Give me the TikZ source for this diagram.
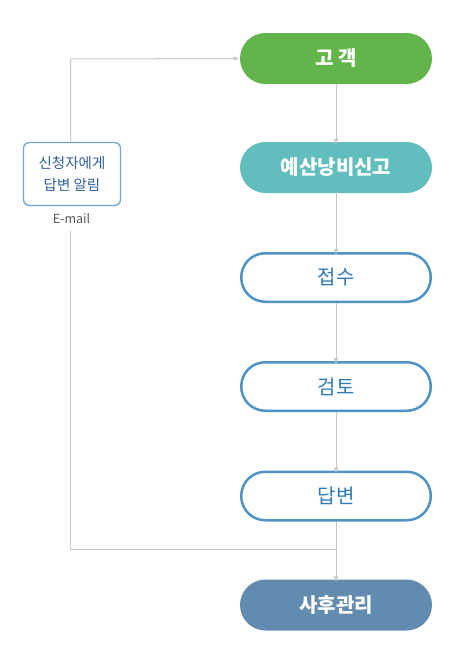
\documentclass[tikz,border=0pt]{standalone}
\usepackage{fontspec}
\setmainfont{Noto Sans CJK KR}
\usetikzlibrary{arrows.meta}
\definecolor{cgreen}{HTML}{62B44B}
\definecolor{cteal}{HTML}{62BEBE}
\definecolor{cslate}{HTML}{628BAF}
\definecolor{cline}{HTML}{C8C8C8}
\definecolor{cborder}{HTML}{4F93C4}
\definecolor{ctext}{HTML}{2F7AB8}
\definecolor{cleftb}{HTML}{6FA3D2}
\definecolor{clefttext}{HTML}{2E5E99}
\definecolor{cgraytext}{HTML}{555555}
\tikzset{
  pill/.style={rounded corners=25.5pt, minimum width=192pt, minimum height=51pt, inner sep=0pt, font=\fontsize{20}{22}\selectfont},
  filledpill/.style={pill, fill=#1, text=white, font=\fontsize{20}{22}\selectfont\bfseries},
  linepill/.style={pill, draw=cborder, line width=2.5pt, fill=white, text=ctext, minimum width=189.5pt, minimum height=48.5pt, rounded corners=24pt},
  conn/.style={draw=cline, line width=1pt},
  arr/.style={conn, -{Latex[length=6pt,width=5pt]}},
}
\begin{document}
\begin{tikzpicture}[x=1pt,y=-1pt]
\useasboundingbox (0,0) rectangle (455,664);
\node[filledpill=cgreen] (n1) at (336,58.5) {고 객};
\node[filledpill=cteal] (n2) at (336,167.5) {예산낭비신고};
\node[linepill] (n3) at (336,277.5) {접수};
\node[linepill] (n4) at (336,386.5) {검토};
\node[linepill] (n5) at (336,496) {답변};
\node[filledpill=cslate] (n6) at (336,605) {사후관리};
\node[draw=cleftb, line width=1.3pt, rounded corners=6pt, minimum width=97pt, minimum height=63pt, align=center, text=clefttext, font=\fontsize{14.5}{21.5}\selectfont, inner sep=0pt] (box) at (72,174) {신청자에게\\답변 알림};
\node[text=cgraytext, font=\fontsize{12.5}{14}\selectfont, inner sep=0pt] (mail) at (71.5,219) {E-mail};
\coordinate (tl) at (70.5,59);
\coordinate (bl) at (70.5,549);
\coordinate (bj) at (336,549);
\coordinate (ms) at (70.5,231);
\draw[arr] (box.north -| tl) -- (tl) -- (n1.west);
\draw[arr] (n1) -- ([yshift=-3pt]n2.north);
\draw[arr] ([yshift=1pt]n2.south) -- ([yshift=-3pt]n3.north);
\draw[arr] (n3) -- ([yshift=-3pt]n4.north);
\draw[arr] (n4) -- ([yshift=-3pt]n5.north);
\draw[arr] (n5) -- ([yshift=-3pt]n6.north);
\draw[conn] (ms) -- (bl) -- (bj);
\end{tikzpicture}
\end{document}
